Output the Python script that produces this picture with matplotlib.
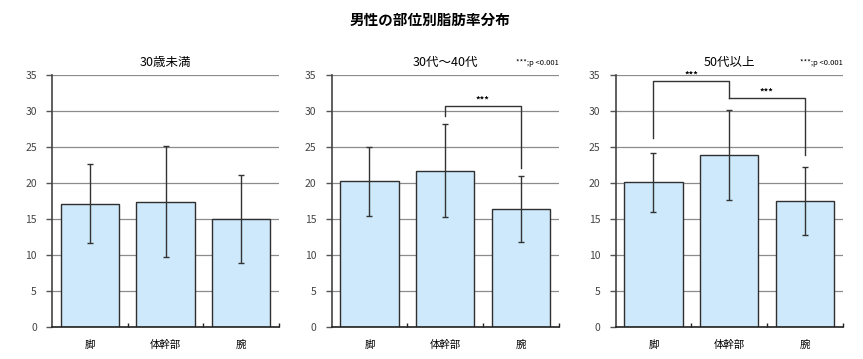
import matplotlib
matplotlib.use("Agg")
import matplotlib.pyplot as plt

plt.rcParams['font.family'] = ['Noto Sans CJK JP', 'DejaVu Sans']

categories = ['脚', '体幹部', '腕']
panel_titles = ['30歳未満', '30代～40代', '50代以上']
means_u30 = [17.1, 17.35, 14.95]
sd_u30 = [5.5, 7.7, 6.1]
means_30_40 = [20.2, 21.7, 16.4]
sd_30_40 = [4.8, 6.5, 4.6]
means_50 = [20.1, 23.85, 17.45]
sd_50 = [4.1, 6.3, 4.7]
yticks = [0, 5, 10, 15, 20, 25, 30, 35]
sig_note = '***;p <0.001'
main_title = '男性の部位別脂肪率分布'

# brackets: (x1, x2, y_top, y_left_end, y_right_end)
brackets_30_40 = [(1, 2, 30.6, 29.3, 22.1)]
brackets_50 = [(0, 1, 34.1, 26.2, 31.8), (1, 2, 31.8, None, 23.85)]

fig = plt.figure(figsize=(8.63, 3.59), dpi=100)
fig.text(0.498, 0.945, main_title, ha='center', va='center', fontsize=10.5, fontweight='bold')

lefts = [0.0603, 0.3843, 0.7134]
datasets = [(means_u30, sd_u30, []), (means_30_40, sd_30_40, brackets_30_40), (means_50, sd_50, brackets_50)]

for i, (left, (m, s, br)) in enumerate(zip(lefts, datasets)):
    ax = fig.add_axes([left, 0.089, 0.263, 0.703])
    x = list(range(len(categories)))
    ax.set_axisbelow(True)
    ax.yaxis.grid(True, color='#8c8c8c', linewidth=0.9)
    ax.bar(x, m, width=0.77, color='#cde9fb', edgecolor='#2f2f2f', linewidth=1.0, zorder=2)
    ax.errorbar(x, m, yerr=s, fmt='none', ecolor='#333333', elinewidth=1.0, capsize=2, capthick=1.0, zorder=3)
    ax.set_xlim(-0.5, 2.5)
    ax.set_ylim(0, 35)
    ax.set_yticks(yticks)
    ax.set_xticks(x)
    ax.set_xticklabels(categories, fontsize=7.5)
    ax.set_xticks([0.5, 1.5, 2.5], minor=True)
    ax.tick_params(axis='x', which='major', length=0, pad=9)
    ax.tick_params(axis='x', which='minor', direction='in', length=3, width=1, color='#222222')
    ax.tick_params(axis='y', length=4, width=1, color='#555555', labelsize=7.5, labelcolor='#444444', pad=7)
    for sp in ['top', 'right']:
        ax.spines[sp].set_visible(False)
    ax.spines['left'].set_color('#444444')
    ax.spines['left'].set_linewidth(1.2)
    ax.spines['bottom'].set_color('#222222')
    ax.spines['bottom'].set_linewidth(1.2)
    ax.set_title(panel_titles[i], fontsize=9, pad=6)
    if br:
        ax.text(1.0, 1.045, sig_note, transform=ax.transAxes, ha='right', va='center', fontsize=5.5)
    for (x1, x2, yt, yl, yr) in br:
        xs, ys = [], []
        if yl is not None:
            xs.append(x1); ys.append(yl)
        xs += [x1, x2, x2]
        ys += [yt, yt, yr]
        ax.plot(xs, ys, color='#333333', linewidth=1.0, zorder=4, clip_on=False)
        ax.text((x1 + x2) / 2, yt + 0.2, '***', ha='center', va='bottom', fontsize=6.5, fontweight='bold')

fig.savefig('out.png', dpi=100)
